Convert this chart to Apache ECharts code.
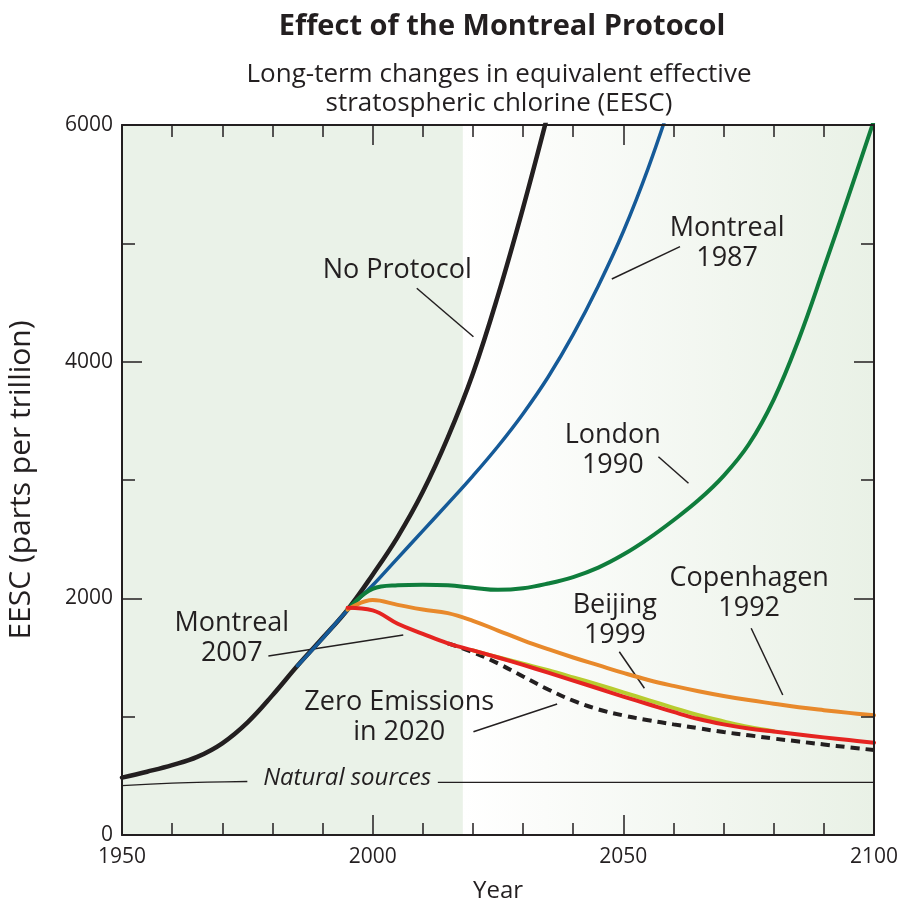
<!DOCTYPE html>
<html>
<head>
<meta charset="utf-8">
<script src="https://cdn.jsdelivr.net/npm/echarts@6/dist/echarts.min.js"></script>
<style>
  html, body { margin: 0; padding: 0; background: #fff; }
  #chart { width: 904px; height: 903px; }
</style>
</head>
<body>
<div id="chart"></div>
<script>
// years on a 5-year grid, 1950..2100
const years = [1950,1955,1960,1965,1970,1975,1980,1985,1990,1995,2000,2005,2010,2015,2020,2025,2030,2035,2040,2045,2050,2055,2060,2065,2070,2075,2080,2085,2090,2095,2100];

// EESC values (ppt), null where a scenario is not drawn
const noProtocol    = [485,535,590,660,775,950,1180,1430,1665,1905,2200,2520,2900,3360,3900,4560,5300,6100,null,null,null,null,null,null,null,null,null,null,null,null,null];
const montreal1987  = [null,null,null,null,null,null,null,1430,1660,1900,2110,2340,2570,2800,3035,3285,3560,3870,4230,4640,5100,5640,6260,null,null,null,null,null,null,null,null];
const london1990    = [null,null,null,null,null,null,null,null,null,1905,2080,2110,2115,2110,2090,2072,2085,2125,2180,2260,2370,2505,2660,2830,3035,3300,3680,4190,4790,5410,6040];
const copenhagen1992= [null,null,null,null,null,null,null,null,null,1905,1985,1945,1905,1875,1810,1728,1645,1570,1500,1435,1370,1310,1260,1215,1175,1140,1110,1080,1055,1032,1012];
const beijing1999   = [null,null,null,null,null,null,null,null,null,null,null,null,null,null,1560,1502,1447,1392,1332,1270,1205,1140,1075,1012,960,912,876,null,null,null,null];
const montreal2007  = [null,null,null,null,null,null,null,null,null,1920,1898,1785,1700,1620,1560,1500,1437,1372,1305,1238,1170,1105,1040,980,935,900,875,850,825,802,780];
const zeroEmissions = [null,null,null,null,null,null,null,null,null,null,null,null,null,1620,1545,1450,1340,1230,1135,1062,1010,970,935,902,870,843,815,790,765,741,718];

// natural sources baseline (gap where the label sits)
const naturalYears  = [1950,1960,1967,1975,1994,2013,2100];
const naturalValues = [417,438,447,452,'-',445,445];

// annotation text and anchors (year, ppt)
const labelTexts  = ['No Protocol','Montreal\n1987','London\n1990','Copenhagen\n1992','Beijing\n1999','Montreal\n2007','Zero Emissions\nin 2020'];
const labelYears  = [2004.9,2070.7,2047.9,2075.1,2048.3,1971.9,2005.3];
const labelValues = [4775,5003,3254,2045,1817,1665,997];
const naturalLabel = ['Natural sources', 1994.9, 482];

// leader lines: [fromYear, fromValue, toYear, toValue]
const leaders = [
  [2008.8,4620,2020.1,4211],
  [2061.3,4972,2047.7,4699],
  [2057.0,3197,2063.0,2972],
  [2075.5,1747,2081.8,1183],
  [2049.2,1549,2054.2,1240],
  [1979.2,1513,2006.1,1690],
  [2020.1,873,2036.8,1107]
];

const ink = '#231f20';
const font = 'Open Sans';

const pairs = vals => years.map((y, i) => [y, vals[i] == null ? '-' : vals[i]]);

const curve = (name, vals, color, width, extra) => Object.assign({
  name, type: 'line', data: pairs(vals), smooth: 0.4, showSymbol: false, symbol: 'none',
  connectNulls: false, clip: true,
  lineStyle: { color, width, cap: 'round', join: 'round' }, z: 5
}, extra || {});

const axisCommon = {
  z: 20,
  axisLine: { show: true, onZero: false, lineStyle: { color: ink, width: 2 } },
  axisTick: { show: true, inside: true, length: 20, lineStyle: { color: ink, width: 1.5 } },
  minorTick: { show: true, length: 12, lineStyle: { color: ink, width: 1.5 } },
  splitLine: { show: false }
};

const chart = echarts.init(document.getElementById('chart'), null, { renderer: 'canvas' });

chart.setOption({
  animation: false,
  backgroundColor: '#fff',
  title: [
    { text: 'Effect of the Montreal Protocol', left: 497, top: 7, textAlign: 'center',
      textStyle: { fontFamily: font, fontWeight: 'bold', fontSize: 29, color: ink } },
    { text: 'Long-term changes in equivalent effective\nstratospheric chlorine (EESC)', left: 494, top: 55, textAlign: 'center',
      textStyle: { fontFamily: font, fontWeight: 'normal', fontSize: 26, lineHeight: 29, color: ink } }
  ],
  grid: { left: 122, right: 30, top: 125, bottom: 68, containLabel: false, outerBoundsMode: 'none' },
  xAxis: [
    Object.assign({}, axisCommon, {
      type: 'value', min: 1950, max: 2100, interval: 50, position: 'bottom',
      minorTick: Object.assign({}, axisCommon.minorTick, { splitNumber: 5 }),
      axisLabel: { fontFamily: font, fontSize: 21, color: ink, margin: 12, formatter: v => String(v) },
      name: 'Year', nameLocation: 'middle', nameGap: 44,
      nameTextStyle: { fontFamily: font, fontSize: 24, color: ink }
    }),
    Object.assign({}, axisCommon, {
      type: 'value', min: 1950, max: 2100, interval: 50, position: 'top',
      minorTick: Object.assign({}, axisCommon.minorTick, { splitNumber: 5 }),
      axisLabel: { show: false }
    })
  ],
  yAxis: [
    Object.assign({}, axisCommon, {
      type: 'value', min: 0, max: 6000, interval: 2000, position: 'left',
      minorTick: Object.assign({}, axisCommon.minorTick, { splitNumber: 2, length: 13 }),
      axisLabel: { fontFamily: font, fontSize: 21, color: ink, margin: 9, formatter: v => String(v) },
      name: 'EESC (parts per trillion)', nameLocation: 'middle', nameGap: 86,
      nameTextStyle: { fontFamily: font, fontSize: 30, color: ink }
    }),
    Object.assign({}, axisCommon, {
      type: 'value', min: 0, max: 6000, interval: 2000, position: 'right',
      minorTick: Object.assign({}, axisCommon.minorTick, { splitNumber: 2, length: 13 }),
      axisLabel: { show: false }
    })
  ],
  series: [
    {
      type: 'line', data: [], silent: true, z: 0,
      markArea: {
        silent: true,
        data: [
          [{ xAxis: 1950, itemStyle: { color: '#eaf2e8' } }, { xAxis: 2018 }],
          [{ xAxis: 2018, itemStyle: { color: new echarts.graphic.LinearGradient(0, 0, 1, 0, [
              { offset: 0, color: '#ffffff' }, { offset: 0.2, color: '#fbfcfa' }, { offset: 1, color: '#e9f1e6' }]) } },
           { xAxis: 2100 }]
        ]
      }
    },
    {
      type: 'line', data: naturalYears.map((y, i) => [y, naturalValues[i]]), smooth: 0.3,
      symbol: 'none', connectNulls: false, lineStyle: { color: ink, width: 1.3 }, z: 3
    },
    {
      type: 'lines', coordinateSystem: 'cartesian2d', silent: true, z: 4,
      lineStyle: { color: ink, width: 1.5, opacity: 1 },
      data: leaders.map(l => ({ coords: [[l[0], l[1]], [l[2], l[3]]] }))
    },
    curve('No Protocol', noProtocol, ink, 4.5),
    curve('Montreal 1987', montreal1987, '#155a98', 3.5),
    curve('London 1990', london1990, '#0f7d3c', 4),
    curve('Copenhagen 1992', copenhagen1992, '#e8892b', 4),
    curve('Zero Emissions in 2020', zeroEmissions, ink, 4, { lineStyle: { color: ink, width: 4, type: [9, 6] }, z: 4 }),
    curve('Beijing 1999', beijing1999, '#b8cc2f', 4, { z: 5 }),
    curve('Montreal 2007', montreal2007, '#e52421', 4, { z: 6 }),
    {
      type: 'scatter', symbolSize: 0, silent: true, z: 10,
      itemStyle: { opacity: 1 },
      data: labelTexts.map((t, i) => ({ value: [labelYears[i], labelValues[i]], name: t })),
      label: {
        show: true, position: [0, 0], align: 'center', verticalAlign: 'middle',
        formatter: p => p.name, fontFamily: font, fontSize: 27, lineHeight: 30, color: ink
      }
    },
    {
      type: 'scatter', symbolSize: 0, silent: true, z: 10,
      itemStyle: { opacity: 1 },
      data: [{ value: [naturalLabel[1], naturalLabel[2]], name: naturalLabel[0] }],
      label: {
        show: true, position: [0, 0], align: 'center', verticalAlign: 'middle',
        formatter: p => p.name, fontFamily: font, fontStyle: 'italic', fontSize: 24, color: ink
      }
    }
  ]
});
</script>
</body>
</html>
